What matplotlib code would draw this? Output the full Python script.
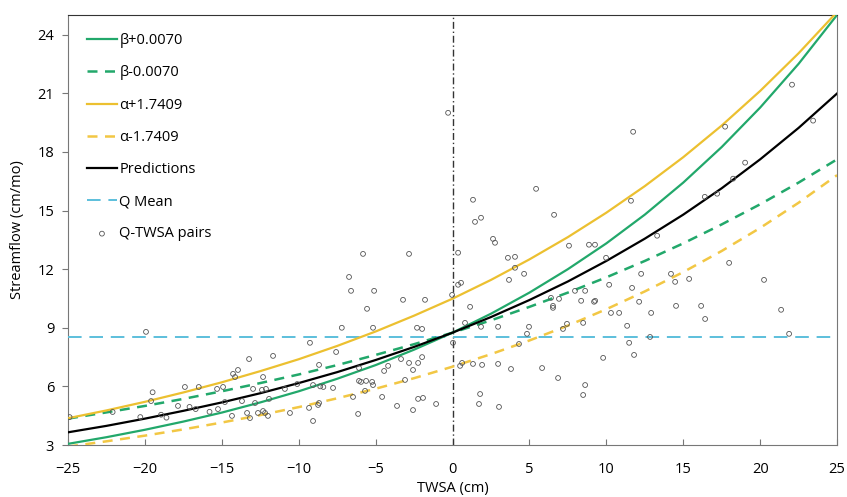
import matplotlib
matplotlib.use("Agg")
import matplotlib.pyplot as plt

# Model curves every 2.5 cm of TWSA
twsa_grid = [-25, -22.5, -20, -17.5, -15, -12.5, -10, -7.5, -5, -2.5, 0,
             2.5, 5, 7.5, 10, 12.5, 15, 17.5, 20, 22.5, 25]
q_pred = [3.65, 3.98, 4.35, 4.75, 5.18, 5.65, 6.17, 6.73, 7.35, 8.02, 8.75,
          9.55, 10.42, 11.37, 12.42, 13.56, 14.79, 16.14, 17.62, 19.23, 20.99]
q_beta_plus = [3.06, 3.40, 3.78, 4.20, 4.66, 5.18, 5.75, 6.39, 7.09, 7.88, 8.75,
               9.72, 10.80, 12.00, 13.32, 14.79, 16.43, 18.25, 20.27, 22.51, 25.01]
q_beta_minus = [4.35, 4.67, 5.00, 5.36, 5.75, 6.17, 6.61, 7.09, 7.61, 8.16, 8.75,
                9.38, 10.07, 10.80, 11.58, 12.42, 13.32, 14.29, 15.32, 16.43, 17.62]
q_alpha_plus = [4.37, 4.77, 5.21, 5.69, 6.21, 6.78, 7.39, 8.07, 8.81, 9.62, 10.49,
                11.45, 12.50, 13.64, 14.89, 16.25, 17.73, 19.35, 21.12, 23.05, 25.16]
q_alpha_minus = [2.92, 3.19, 3.48, 3.80, 4.15, 4.53, 4.94, 5.39, 5.88, 6.42, 7.01,
                 7.65, 8.35, 9.11, 9.95, 10.86, 11.85, 12.93, 14.11, 15.40, 16.81]
q_mean = 8.53

# Q-TWSA pairs
pair_twsa = [
    -24.9, -22.1, -20.3, -19.93, -19.5, -19.6, -18.6, -18.95, -17.85, -17.4, -17.1, -16.7, -16.5, -15.8,
    -9.27, -13.23, -11.67, -13.95, -14.27, -14.14, -12.32, -15.31, -14.92, -12.97, -12.39, -12.13, -10.9,
    -10.1, -9.07, -8.68, -7.57, -8.6, -8.4, -7.77, -15.25, -14.8, -13.69, -12.84, -11.93, -14.34, -13.36,
    -13.17, -12.65, -12.32, -12.19, -12.0, -10.57, -9.33, -9.07, -8.68, -8.74,
    -0.29, -5.82, -2.83, 0.36, -6.73, -6.6, -5.1, -5.56, -3.22, -1.79, 0.36, 0.55, -0.03, -7.2, -5.17,
    -2.31, -1.98, 0.03, 0.81, -6.08, -4.45, -4.19, -3.35, -2.83, -2.24, -1.98, -2.57, -6.08, -5.95, -5.62,
    -5.23, -5.17, -6.47, -5.69, -4.58, -3.09, -3.61, -2.57, -2.24, -1.92, -1.07, -6.14, 0.49, 0.62,
    5.43, 1.33, 1.46, 1.85, 2.63, 2.76, 6.6, 3.6, 4.06, 4.06, 4.65, 3.67, 7.57, 8.87, 9.26, 1.14, 1.85,
    2.96, 4.97, 4.84, 4.32, 6.4, 6.53, 6.53, 6.92, 7.96, 8.62, 8.36, 9.27, 7.44, 7.18, 8.49, 1.33, 1.92,
    2.96, 3.8, 5.82, 6.86, 1.79, 1.72, 3.02, 8.62, 8.49,
    11.74, 17.72, 11.6, 16.4, 17.2, 13.3, 9.98, 12.26, 10.18, 11.67, 14.2, 14.47, 15.38, 17.98, 9.2,
    12.13, 10.3, 10.83, 12.91, 14.53, 16.16, 16.42, 11.35, 12.84, 11.48, 9.79, 11.8, 20.25, 21.36,
    21.88, 22.07, 23.44, 19.02, 18.24]
pair_q = [
    4.43, 4.69, 4.43, 8.79, 5.7, 5.25, 4.4, 4.55, 5.0, 5.97, 4.95, 4.84, 5.97, 4.7,
    8.23, 7.4, 7.56, 6.84, 6.64, 6.48, 6.48, 5.87, 5.97, 5.87, 5.82, 5.87, 5.87,
    6.12, 6.07, 7.1, 7.76, 6.0, 5.97, 5.92, 4.84, 5.2, 5.25, 5.15, 5.36, 4.49, 4.64,
    4.38, 4.64, 4.74, 4.64, 4.49, 4.64, 4.9, 4.23, 5.15, 5.05,
    20.0, 12.78, 12.78, 12.84, 11.6, 10.89, 10.89, 9.97, 10.43, 10.43, 11.2, 11.3, 10.68, 9.0, 9.0,
    9.0, 8.94, 8.23, 9.25, 6.94, 6.79, 7.05, 7.4, 7.2, 7.2, 7.5, 6.84, 6.28, 6.23, 6.28,
    6.23, 6.07, 5.46, 5.77, 5.46, 6.33, 5.0, 4.79, 5.36, 5.41, 5.1, 4.59, 7.05, 7.2,
    16.11, 15.55, 14.42, 14.63, 13.55, 13.35, 14.78, 12.58, 12.63, 12.07, 11.76, 11.45, 13.2, 13.25, 13.25, 10.07, 9.05,
    9.05, 9.05, 8.69, 8.17, 10.53, 10.12, 10.02, 10.48, 10.89, 10.89, 10.38, 10.38, 9.2, 8.94, 9.25, 7.15, 7.1,
    7.15, 6.89, 6.94, 6.43, 5.61, 5.1, 4.95, 6.07, 5.56,
    19.03, 19.29, 15.5, 15.7, 15.86, 13.71, 12.58, 11.76, 11.2, 11.04, 11.76, 11.35, 11.5, 12.32, 10.33,
    10.33, 9.76, 9.76, 9.76, 10.12, 10.12, 9.45, 9.1, 8.53, 8.23, 7.46, 7.61, 11.45, 9.92,
    8.69, 21.44, 19.6, 17.45, 16.63]

x_ticks = [-25, -20, -15, -10, -5, 0, 5, 10, 15, 20, 25]
y_ticks = [3, 6, 9, 12, 15, 18, 21, 24]

green = "#22a86b"
gold = "#ecc030"
gold_light = "#f2c744"
blue = "#5cbfdc"

plt.rcParams['font.family'] = ['Open Sans', 'DejaVu Sans']
plt.rcParams['font.size'] = 10

fig = plt.figure(figsize=(8.47, 4.97), dpi=100)
ax = fig.add_axes([0.0803, 0.1046, 0.908, 0.865])

ax.plot(twsa_grid, q_beta_plus, color=green, lw=1.6, label="β+0.0070", zorder=4)
ax.plot(twsa_grid, q_beta_minus, color=green, lw=1.8, ls=(0, (4, 3)), label="β-0.0070", zorder=4)
ax.plot(twsa_grid, q_alpha_plus, color=gold, lw=1.6, label="α+1.7409", zorder=4)
ax.plot(twsa_grid, q_alpha_minus, color=gold_light, lw=1.8, ls=(0, (4, 3)), label="α-1.7409", zorder=4)
ax.plot(twsa_grid, q_pred, color="black", lw=1.6, label="Predictions", zorder=5)
ax.axhline(q_mean, color=blue, lw=1.4, ls=(0, (7, 4)), label="Q Mean", zorder=3)
ax.scatter(pair_twsa, pair_q, s=12, facecolors="none", edgecolors="#555555",
           linewidths=0.6, label="Q-TWSA pairs", zorder=6)

# zero TWSA reference
ax.axvline(0, color="#333333", lw=1.0, ls=(0, (5, 2, 1, 2)), zorder=2)

ax.set_xlim(-25, 25)
ax.set_ylim(3, 25)
ax.set_xticks(x_ticks)
ax.set_yticks(y_ticks)
ax.tick_params(axis="x", direction="in", length=4, color="#777777", labelsize=10.5, pad=12)
ax.tick_params(axis="y", direction="out", length=4, color="#777777", labelsize=10.5, pad=6)
for side in ["left", "bottom", "right"]:
    ax.spines[side].set_color("#777777")
ax.spines["top"].set_color("#333333")
ax.set_xlabel("TWSA (cm)", fontsize=10.5, labelpad=3)
ax.set_ylabel("Streamflow (cm/mo)", fontsize=10.5, labelpad=9)

ax.legend(loc="upper left", frameon=False, fontsize=10.5, handlelength=2.0,
          handletextpad=0.2, labelspacing=1.18, borderaxespad=0.4,
          bbox_to_anchor=(0.01, 0.985))

fig.savefig("out.png", dpi=100)
